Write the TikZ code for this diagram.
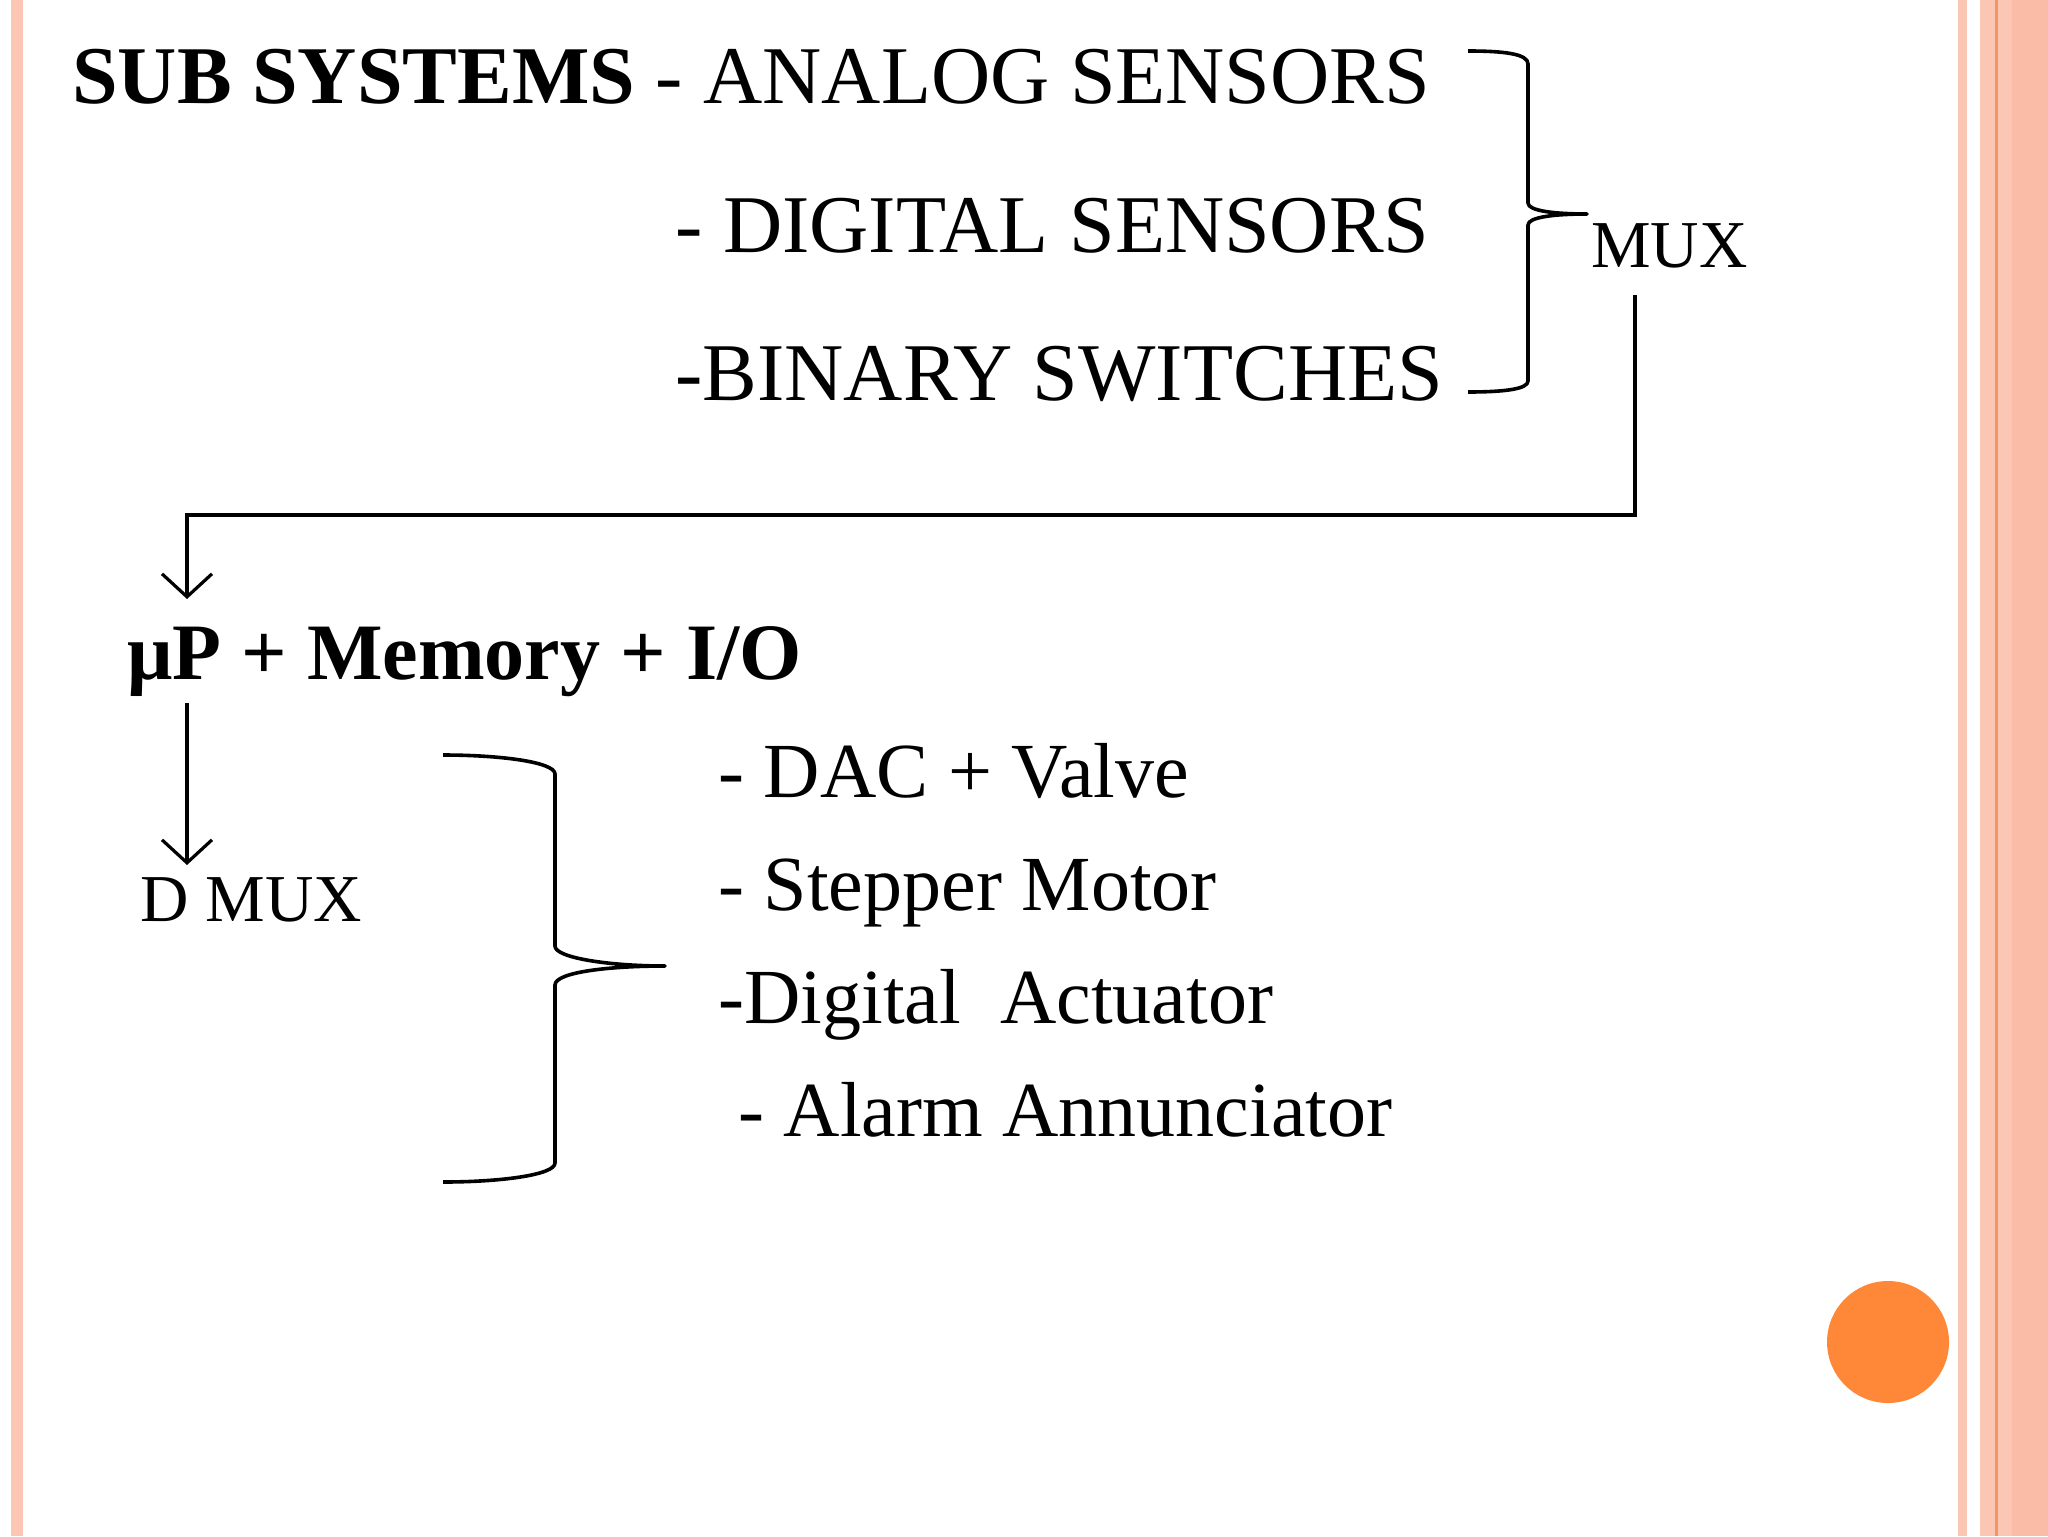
\documentclass[tikz,border=0pt]{standalone}
\usepackage{fontspec}
\setmainfont{Liberation Serif}
\usetikzlibrary{arrows.meta}
\definecolor{bpink}{RGB}{252,198,180}
\definecolor{bpinkd}{RGB}{250,188,166}
\definecolor{bline}{RGB}{244,150,100}
\definecolor{dotc}{RGB}{255,136,56}
\begin{document}
\begin{tikzpicture}[x=0.5pt,y=-0.5pt,
  bigtxt/.style={anchor=base west,inner sep=0pt,font=\fontsize{41pt}{41pt}\selectfont},
  boldtxt/.style={anchor=base west,inner sep=0pt,font=\fontsize{40pt}{40pt}\selectfont\bfseries},
  midtxt/.style={anchor=base west,inner sep=0pt,font=\fontsize{39pt}{39pt}\selectfont},
  smalltxt/.style={anchor=base west,inner sep=0pt,font=\fontsize{33.5pt}{33.5pt}\selectfont},
  conn/.style={line width=1.6pt},
  arr/.style={conn,-{Straight Barb[length=11.5pt,width=25pt]}},
  bracep/.style={line width=1.8pt,line join=round}]
\fill[white] (0,0) rectangle (2048,1536);
\useasboundingbox (0,0) rectangle (2048,1536);
% borders
\fill[bpink] (11,0) rectangle (23,1536);
\fill[bpink] (1958,0) rectangle (1967,1536);
\fill[bpink] (1980,0) rectangle (2048,1536);
\fill[bpinkd] (2012,0) rectangle (2048,1536);
\fill[bline] (1995,0) rectangle (1998,1536);
\fill[dotc] (1888,1342) circle (30.5pt);
% texts
\node[bigtxt] (l1) at (72,104) {\textbf{SUB SYSTEMS} - ANALOG SENSORS};
\node[bigtxt] (l2) at (675,252) {- DIGITAL SENSORS};
\node[bigtxt] (l3) at (675,400) {-BINARY SWITCHES};
\node[smalltxt] (mux) at (1591,267) {MUX};
\node[boldtxt] (up) at (127,679) {μP + Memory + I/O};
\node[smalltxt] (dmux) at (140,921) {D MUX};
\node[midtxt] (o1) at (718,797) {- DAC + Valve};
\node[midtxt] (o2) at (718,910) {- Stepper Motor};
\node[midtxt] (o3) at (718,1023) {-Digital\hspace{0.5em}Actuator};
\node[midtxt] (o4) at (738,1136) {- Alarm Annunciator};
% braces
\draw[bracep] (1468,51) .. controls (1505,51) and (1528,54) .. (1528,64) -- (1528,203)
  .. controls (1528,211) and (1555,214) .. (1587,214)
  .. controls (1555,214) and (1528,217) .. (1528,225) -- (1528,381)
  .. controls (1528,389) and (1505,392) .. (1468,392);
\draw[bracep] (443,755) .. controls (500,755) and (555,762) .. (555,774) -- (555,946)
  .. controls (555,958) and (610,966) .. (665,966)
  .. controls (610,966) and (555,972) .. (555,985) -- (555,1163)
  .. controls (555,1175) and (500,1182) .. (443,1182);
% connectors
\coordinate (muxout) at (1635,295);
\coordinate (upin) at (187,599);
\coordinate (upout) at (187,703);
\coordinate (dmuxin) at (187,865);
\draw[arr] (muxout) -- (1635,515) -| (upin);
\draw[arr] (upout) -- (dmuxin);
\end{tikzpicture}
\end{document}
